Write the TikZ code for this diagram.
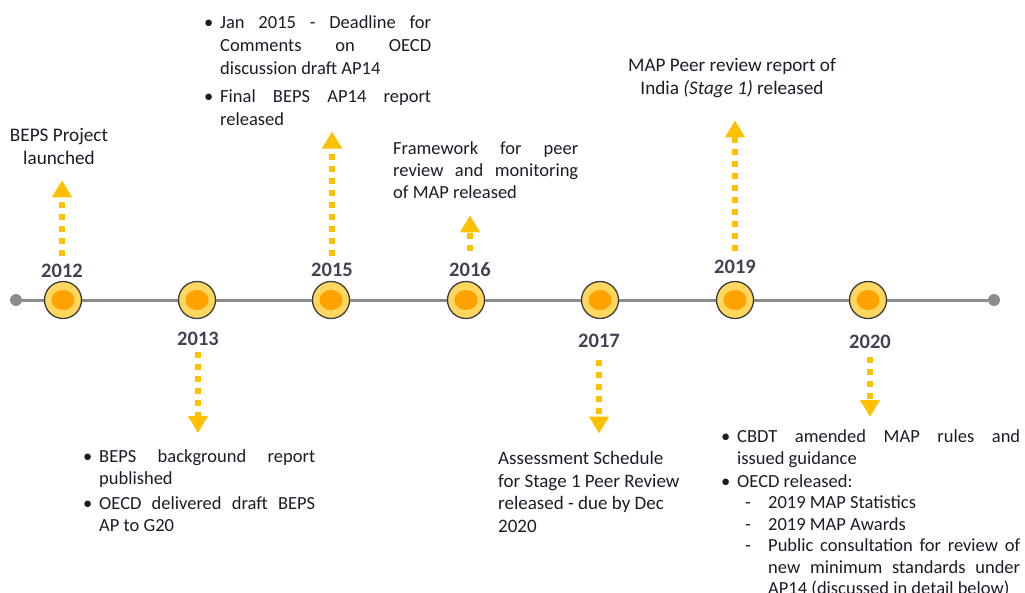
\documentclass[tikz,border=0pt]{standalone}
\usepackage{fontspec}
\setmainfont{Carlito}
\usepackage{enumitem}
\usetikzlibrary{arrows.meta, positioning, calc}

\definecolor{yeargray}{RGB}{66,66,82}
\definecolor{textdark}{RGB}{28,28,40}
\definecolor{arrowgold}{RGB}{255,192,0}
\definecolor{markfill}{RGB}{255,214,94}
\definecolor{markcore}{RGB}{255,162,0}
\definecolor{markrim}{RGB}{60,60,60}
\definecolor{linegray}{RGB}{140,140,140}

% forced line ends stay stretched, no hyphens
\tolerance=10000
\hbadness=10000
\hyphenpenalty=10000

\setlist[itemize,1]{label=\textbullet, leftmargin=16pt, labelwidth=10pt, labelsep=6pt, align=left,
  topsep=0pt, partopsep=0pt, parsep=0pt, itemsep=3pt}
\setlist[itemize,2]{label=-, leftmargin=31pt, labelwidth=6pt, labelsep=17pt, align=left,
  topsep=0pt, partopsep=0pt, parsep=0pt, itemsep=0pt}

\tikzset{
  yearmark/.style={circle, draw=markrim, line width=1.3pt, fill=markfill, minimum size=37pt, inner sep=0pt},
  enddot/.style={circle, fill=linegray, minimum size=12pt, inner sep=0pt},
  yearlabel/.style={font=\fontsize{20.5}{24}\selectfont\bfseries, text=yeargray, inner sep=0pt},
  blurb/.style={font=\fontsize{18.5}{22}\selectfont, text=textdark, inner sep=0pt},
  bigblurb/.style={blurb, font=\fontsize{19.2}{23}\selectfont},
  dotarrow/.style={draw=arrowgold, line width=6.5pt, dash pattern=on 6pt off 6pt,
    -{Triangle[width=19pt, length=17pt, fill=arrowgold]}},
}

\begin{document}
\begin{tikzpicture}[x=1pt, y=-1pt]
  \useasboundingbox (0,0) rectangle (1025,592);

  % Timeline
  \node[enddot] (start) at (16,300) {};
  \node[enddot] (finish) at (994,300) {};
  \draw[linegray, line width=3pt] (start) -- (finish);

  % Year markers
  \foreach \yr/\xx/\lx/\ly in {2012/63/62/277, 2013/197/198/345, 2015/331/332/276,
      2016/466/470/276, 2017/600/599/347, 2019/735/735/273, 2020/868/870/348}{
    \node[yearmark] (m\yr) at (\xx,300) {};
    \fill[markcore] (m\yr) ellipse (11.5pt and 10pt);
    \node[yearlabel, anchor=base] (l\yr) at (\lx,\ly) {\yr};
  }

  % 2012
  \node[bigblurb, align=center, anchor=north] (t2012) at (59,128.5) {BEPS Project\\launched};
  \draw[dotarrow, shorten <=7pt, shorten >=15pt] (l2012.north) -- (l2012.north |- t2012.south);

  % 2013
  \node[blurb, text width=232pt, align=justify, anchor=north west] (t2013) at (83,440) {
    \begin{itemize}
      \item BEPS background report\linebreak published
      \item OECD delivered draft BEPS\linebreak AP to G20
    \end{itemize}};
  \draw[dotarrow, shorten <=7pt, shorten >=7pt] (l2013.south) -- (l2013.south |- t2013.north);

  % 2015
  \node[blurb, font=\fontsize{18.5}{23}\selectfont, text width=227pt, align=justify,
    anchor=north west] (t2015) at (204,5) {
    \begin{itemize}[itemsep=5pt]
      \item Jan 2015 - Deadline for\linebreak Comments on OECD\linebreak discussion draft AP14
      \item Final BEPS AP14 report\linebreak released
    \end{itemize}};
  \draw[dotarrow, shorten <=6pt, shorten >=6pt] (l2015.north) -- (l2015.north |- t2015.south);

  % 2016
  \node[blurb, text width=185pt, align=justify, anchor=north west] (t2016) at (393,141)
    {Framework for peer\linebreak review and monitoring\linebreak of MAP released};
  \draw[dotarrow, shorten <=11pt, shorten >=17pt] (l2016.north) -- (l2016.north |- t2016.south);

  % 2017
  \node[bigblurb, font=\fontsize{19}{22.5}\selectfont, align=left, anchor=north west] (t2017) at (498,451.5)
    {Assessment Schedule\\for Stage 1 Peer Review\\released - due by Dec\\2020};
  \draw[dotarrow, shorten <=13pt, shorten >=18pt] (l2017.south) -- (l2017.south |- t2017.north);

  % 2019
  \node[bigblurb, align=center, anchor=north] (t2019) at (732,58.5)
    {MAP Peer review report of\\India \textit{(Stage 1)} released};
  \draw[dotarrow, shorten <=8pt, shorten >=22pt] (l2019.north) -- (l2019.north |- t2019.south);

  % 2020
  \node[blurb, font=\fontsize{18.5}{21.5}\selectfont, text width=299pt, align=justify,
    anchor=north west] (t2020) at (721,421) {
    \begin{itemize}[itemsep=1.5pt]
      \item CBDT amended MAP rules and\linebreak issued guidance
      \item OECD released:
      \begin{itemize}
        \item 2019 MAP Statistics
        \item 2019 MAP Awards
        \item Public consultation for review of\linebreak new minimum standards under\linebreak AP14 (discussed in detail below)
      \end{itemize}
    \end{itemize}};
  \draw[dotarrow, shorten <=9pt, shorten >=4pt] (l2020.south) -- (l2020.south |- t2020.north);
\end{tikzpicture}
\end{document}
